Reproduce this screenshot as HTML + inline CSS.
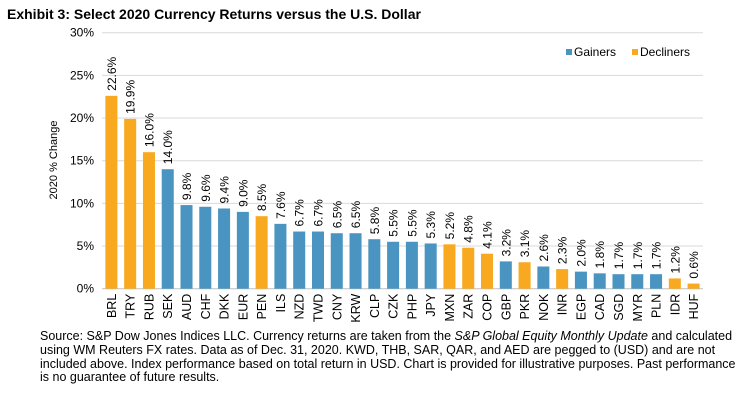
<!DOCTYPE html>
<html><head><meta charset="utf-8"><style>
body{margin:0;background:#fff;width:747px;height:411px;overflow:hidden;font-family:"Liberation Sans",Arial,sans-serif}
.t{position:absolute;left:7px;top:6px;font-weight:bold;font-size:14px;color:#000}
.f{position:absolute;left:40px;top:330px;white-space:nowrap;font-size:12.5px;line-height:13.8px;color:#000}
</style></head><body>
<div class="t">Exhibit 3: Select 2020 Currency Returns versus the U.S. Dollar</div>
<svg id="c" width="747" height="330" style="position:absolute;left:0;top:0"></svg>
<div class="f">Source: S&amp;P Dow Jones Indices LLC. Currency returns are taken from the <i>S&amp;P Global Equity Monthly Update</i> and calculated<br>using WM Reuters FX rates. Data as of Dec. 31, 2020. KWD, THB, SAR, QAR, and AED are pegged to (USD) and are not<br>included above. Index performance based on total return in USD. Chart is provided for illustrative purposes. Past performance<br>is no guarantee of future results.</div>
<script>
const categories=["BRL","TRY","RUB","SEK","AUD","CHF","DKK","EUR","PEN","ILS","NZD","TWD","CNY","KRW","CLP","CZK","PHP","JPY","MXN","ZAR","COP","GBP","PKR","NOK","INR","EGP","CAD","SGD","MYR","PLN","IDR","HUF"];
const values=[22.6,19.9,16.0,14.0,9.8,9.6,9.4,9.0,8.5,7.6,6.7,6.7,6.5,6.5,5.8,5.5,5.5,5.3,5.2,4.8,4.1,3.2,3.1,2.6,2.3,2.0,1.8,1.7,1.7,1.7,1.2,0.6];
const groups=["D","D","D","G","G","G","G","G","D","G","G","G","G","G","G","G","G","G","D","D","D","G","D","G","D","G","G","G","G","G","D","D"];
const yTicks=[0,5,10,15,20,25,30];
const NS="http://www.w3.org/2000/svg",svg=document.getElementById('c');
const L=102,R=703,T=32.7,B=288.7,ymax=30;
const band=(R-L)/categories.length;
const y=v=>B-(v/ymax)*(B-T);
const x=i=>L+band*(i+0.5);
const col={G:"#4A94C1",D:"#F9A91F"};
function mk(tag,a,txt){const e=document.createElementNS(NS,tag);for(const k in a)e.setAttribute(k,a[k]);if(txt!=null)e.textContent=txt;svg.appendChild(e);return e;}
yTicks.forEach(t=>{
 const g=mk('line',{x1:L,x2:R,y1:y(t),y2:y(t),stroke:t===0?'#bfbfbf':'#d9d9d9','stroke-width':1});
 
 
 const lb=mk('text',{x:L-8,y:y(t)+4,'text-anchor':'end','font-size':12,fill:'#000','font-family':'Liberation Sans'},t+'%');
 
 
});
const yt=mk('text',{transform:'translate(57,160) rotate(-90)','text-anchor':'middle','font-size':11,'font-family':'Liberation Sans'},'2020 % Change');


const bw=band*0.64;
categories.forEach((c,i)=>{
 const r=mk('rect',{x:x(i)-bw/2,y:y(values[i]),width:bw,height:B-y(values[i]),fill:col[groups[i]]});
 
 
 const v=mk('text',{transform:`translate(${x(i)+4.5},${y(values[i])-5}) rotate(-90)`,'font-size':12,'font-family':'Liberation Sans'},values[i].toFixed(1)+'%');
 
 
 const cl=mk('text',{transform:`translate(${x(i)+4.5},${B+5}) rotate(-90)`,'text-anchor':'end','font-size':12.5,'font-family':'Liberation Sans'},c);
 
 
});
const lg=[["Gainers",col.G,566],["Decliners",col.D,632]];
lg.forEach(([n,cc,lx])=>{
 const s=mk('rect',{x:lx,y:49,width:6,height:6,fill:cc});
 
 
 const t=mk('text',{x:lx+8,y:56,'font-size':12,'font-family':'Liberation Sans'},n);
 
 
});
</script>
</body></html>
